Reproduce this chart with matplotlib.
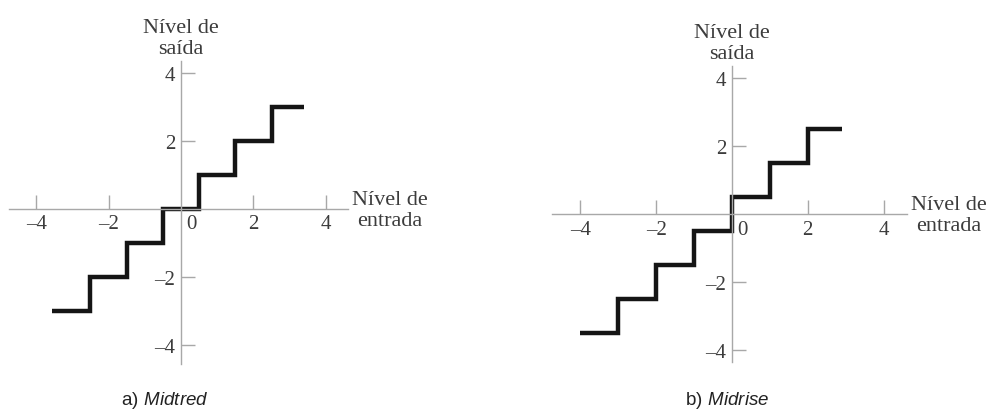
import matplotlib
matplotlib.use("Agg")
import matplotlib.pyplot as plt

# midtred: degraus em x = ±0.5, ±1.5, ±2.5, niveis inteiros
midtred_x = [-3.55, -2.5, -2.5, -1.5, -1.5, -0.5, -0.5, 0.5, 0.5, 1.5, 1.5, 2.5, 2.5, 3.4]
midtred_y = [-3, -3, -2, -2, -1, -1, 0, 0, 1, 1, 2, 2, 3, 3]

# midrise: degraus em x inteiros, niveis em meios
midrise_x = [-4, -3, -3, -2, -2, -1, -1, 0, 0, 1, 1, 2, 2, 2.9]
midrise_y = [-3.5, -3.5, -2.5, -2.5, -1.5, -1.5, -0.5, -0.5, 0.5, 0.5, 1.5, 1.5, 2.5, 2.5]

tick_vals = [-4, -2, 2, 4]
tick_labels = ["\u20134", "\u20132", "2", "4"]
ylabel = "Nível de\nsaída"
xlabel = "Nível de\nentrada"

serif = "Liberation Serif"
axis_col = "#a8a8a8"
txt_col = "#3c3c3c"

plt.rcParams["mathtext.fontset"] = "custom"
plt.rcParams["mathtext.rm"] = "Liberation Sans"
plt.rcParams["mathtext.it"] = "Liberation Sans:italic"

W, H = 988, 410
fig = plt.figure(figsize=(W / 100, H / 100), dpi=100)


def painel(px_left, px_right, px_top, px_bottom, xlim, ylim, xs, ys, caption, cap_x):
    ax = fig.add_axes([px_left / W, 1 - px_bottom / H, (px_right - px_left) / W, (px_bottom - px_top) / H])
    ax.plot(xs, ys, color="#151515", lw=3.2, solid_joinstyle="miter", solid_capstyle="butt")
    ax.set_xlim(*xlim)
    ax.set_ylim(*ylim)
    for s in ["top", "right"]:
        ax.spines[s].set_visible(False)
    ax.spines["left"].set_position(("data", 0))
    ax.spines["bottom"].set_position(("data", 0))
    for s in ["left", "bottom"]:
        ax.spines[s].set_color(axis_col)
        ax.spines[s].set_linewidth(1.0)
    ax.set_xticks(tick_vals)
    ax.set_xticklabels(tick_labels)
    ax.set_yticks(tick_vals)
    ax.set_yticklabels(tick_labels)
    ax.tick_params(direction="in", length=10, width=1.0, color=axis_col,
                   labelcolor=txt_col, labelsize=15, pad=4)
    for lab in ax.get_xticklabels() + ax.get_yticklabels():
        lab.set_fontfamily(serif)
    ax.patch.set_alpha(0)
    # rotulo do zero, a direita do eixo vertical
    ax.annotate("0", xy=(0, 0), xytext=(4, -4), textcoords="offset points",
                ha="left", va="top", fontsize=15, family=serif, color=txt_col)
    # rotulos dos eixos
    ax.annotate(ylabel, xy=(0, 1), xycoords=("data", "axes fraction"), xytext=(0, 2),
                textcoords="offset points", ha="center", va="bottom", fontsize=16,
                family=serif, color=txt_col, linespacing=1.15)
    ax.annotate(xlabel, xy=(1, 0), xycoords=("axes fraction", "data"), xytext=(30, -0.5),
                textcoords="offset points", ha="center", va="center", fontsize=16,
                family=serif, color=txt_col, linespacing=1.15)
    fig.text(cap_x / W, 1 - 401 / H, caption, ha="center", va="center", fontsize=13.5,
             color="#222222")
    return ax


painel(9, 348, 62, 365, (-4.75, 4.61), (-4.56, 4.35), midtred_x, midtred_y,
       r"$\mathrm{a)}$ $\mathit{Midtred}$", 165)
painel(552, 907, 67, 363, (-4.75, 4.62), (-4.35, 4.35), midrise_x, midrise_y,
       r"$\mathrm{b)}$ $\mathit{Midrise}$", 727)

fig.savefig("out.png", dpi=100)
